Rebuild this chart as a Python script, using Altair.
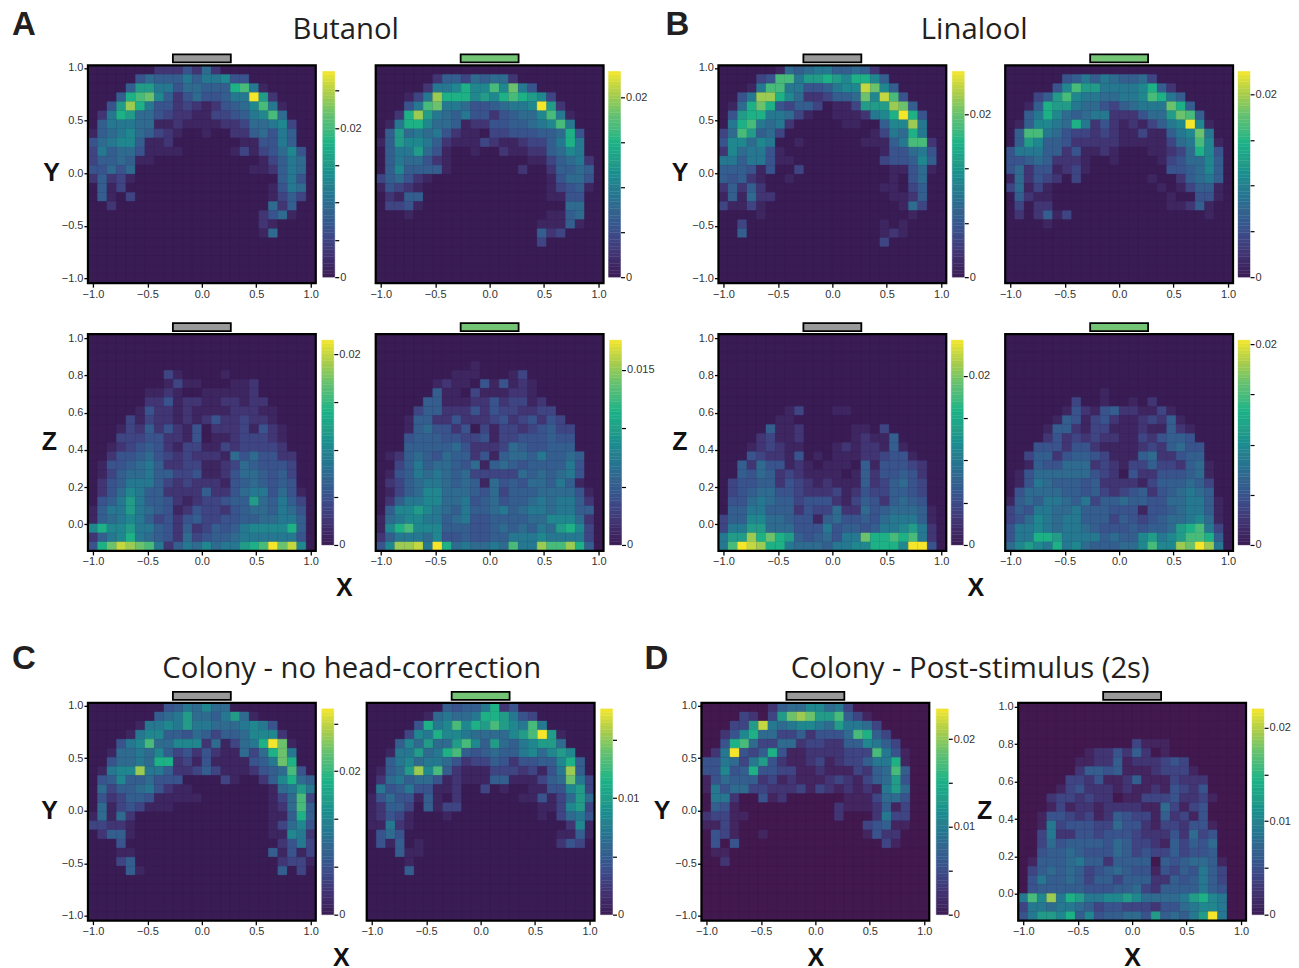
import altair as alt
import pandas as pd

# Each row, top to bottom, is "first_column:levels"; levels 0-f are shades (see LEVELS)
A1_XY = ["7:2224262","5:465557577844","4:59977466555ab71","3:5abc8524644577f92","2:49da744232124568b71",
 "1:27a966432211334578b6","1:577766112111122366783","0:1567865321 12:1 15:2256475","0:467885112 16:114475",
 "0:3756641111 15:13134684","0:3556511 18:13576","0:44646 17:112576","0:25231 20:574","1:513 19:1476",
 "1:51 4:3 19:1353","2:2 19:625","18:2461","18:21","18:16"]
A2_XY = ["","6:255365662","5:2778a88b8c74","3:137daaa898aba983","3:47bc7764456778f92","2:2ad9765744245668b71",
 "1:17aa86651224455678b7","1:5967674211033444556a4","0:15988752111321123357a7","1:5779641 10:1 13:211225687",
 "1:5766421 16:11 18:35672","1:5855551 15:2 18:25565","0:356421 18:14664","0:14321 18:13451","1:2155 18:1144",
 "1:3341 20:66","3:1 18:1156","17:11151","17:523","17:3"]
A3_XZ = ["","","","","8:31 14:1","8:1311 15:112","6:1121 12:111112","6:2241221122122","5:142212111122211",
 "4:3132212124223221","3:132524214022231421","3:333442214011233321","2:1234542133113233332","2:24456432322216464422",
 "1:144567522331123654443","1:135667553341124665453","1:245777532322214565454","1:2468755222252246774641",
 "1:4579755421233455965753","0:15779765412433245665764","0:15678753424533445566775","0:8a8897754252354578888a5",
 "0:2578a765426345567777774","0:4acedcb7257686779abfce8"]
A4_XZ = ["","","","10:1","8:111 14:13","6:12110414121","6:51103111221","5:5511122423312","4:355222424332233",
 "3:15522422234234243","3:156442403133234533","3:455544334133444544","3:555556422236544555","1:125654655241566575565",
 "2:35756654615654555574","1:145767656333336565674","1:235677656516454665751","1:1356886665463555666641",
 "1:2577886674564556767752","1:5889876575567567767755","0:16788775674455556688862","0:18ab8885554456565769a83",
 "0:25777684454455777877773","0:48dde7fa676676b77dbbda5"]
B1_XY = ["6:16567755652","4:34bb799a98aa85","3:17bb77445788ec85","2:47dda86223556c8eb4","1:16aca435530113999dc5",
 "1:49aa77631 12:111278afa4","1:7ab7672 13:11 17:588d7","0:36b9563 16:1376a7","0:488687 8:1 15:11157bb2",
 "0:2867741 17:144674","0:77577411 17:344585","0:555414 8:3 18:11461","0:54521 7:1 18:1 20:46",
 "0:25252 17:11 20:35","0:151622 18:1125","0:31131 19:163","4:1 20:1","2:3 17:1 19:1","2:5 17:121","17:3"]
B2_XY = ["","6:4575765563","5:48b9977778a52","3:359b87766778ba75","2:15a997664356777ca5","2:57a8656772224669cb5",
 "1:158876a72421213578f81","1:5bb7643323211311578c7","1:5985542222211111367b81","0:477755241121 15:11236a84",
 "0:445652221 11:1 16:1346685","0:462441231 17:445685","0:162432 7:3 15:1 18:25675","0:36131 16:1 18:13551",
 "1:5211 17:1 20:441","1:3 3:22 17:11251","1:2 3:2513 21:1","4:1"]
B3_XZ = ["","","","","","","","","7:13 12:11","6:11","5:5112 14:11 17:3","4:23112 14:12 16:115",
 "3:12321 8:1 12:12122151","3:432214 10:1 12:111223441","2:52644121011105144432","2:54652321111015244542",
 "1:344552432121115235643","1:345664432223124335543","1:446765534442135425654","1:5577555243362264566651",
 "0:35588665441564454677751","0:37799666444745545778972","0:799daca95456477caabab72","0:7bfedaa766657788aaa8ff4"]
B4_XZ = ["","","","","","","10:1","7:3 10:1 13:1 15:2","6:142145221131","5:15413421123251","4:1552133111211521",
 "4:2423232211324554","3:444244211112325644","2:3552455431115622455","2:15446662321335332561",
 "1:146666664320422444561","1:147655545222213555653","1:466665545323452456765","0:15657765735565544667751",
 "0:35477667555444144567751","0:34687677555354345667861","0:4778767765444545569ab73","0:477aa97777565589789bba5",
 "0:68987a786555668b88dcfd7"]
C1_XY = ["8:4576866","7:56796657961","5:177879776667874","4:17885546535568882","3:478b66888261367afc1",
 "2:16676853424211636ac7","2:46676aa23141111457ca","1:1788d775223531112456b4","1:458556444 14:31 18:258a65",
 "1:635567421 10:1 19:16797","1:42355411111 19:136b3","1:61343111 19:126b5","0:16162 19:115a5","0:33221 19:13684",
 "1:2551 19:11872","3:4 20:2473","3:11 19:51413","3:35 20:2331","4:51 20:5 22:3"]
C2_XY = ["8:54557a24","6:167667aa9743","5:4a78b8a9b987b7","4:387a887666689bf91","3:5869669b8596578996",
 "2:177967ab545655786898","2:5786776423354244558a5","1:1569d8b5211133323147d5","1:26756641211155111356c73",
 "1:745744112 12:3 14:1 17:1144893","0:1464415102 16:11413696","0:12553 6:5133 18:113893","0:12431 8:1 18:1 20:3674",
 "0:11721 21:281","1:464 20:1151","1:415 5:1 20:243","3:511","4:1","4:5"]
D1_XY = ["7:256688673","4:32 7:39cdc99b531","3:339e767887697763","2:248a6633524446ba53","2:4ab6336623322558753",
 "1:27f435a4112222333b741","0:44763794211231233577a1","0:44845a44331121113256b5","0:1465552312111232135694",
 "0:1746633222313212121796","1:772 6:412 15:1113664","1:541 14:21112513","0:23311 14:2 18:2733","0:1131 17:34511",
 "1:431 6:1 17:1422","1:4 3:4 19:31","1:11","2:2"]
D2_XZ = ["","","","","12:3111","7:122425201","6:112251222343","6:2554511123331","5:332411251113222","4:1342221211214324",
 "3:233232201133342231","3:13122122221163134","2:144323125433152314","2:1734443364421332441","2:3722443444322242634",
 "2:3645555465332153546","2:4556544465343353445","1:155567552555505456651","1:356565345654414354753",
 "1:475565355355522545753","1:455555444556325555754","0:7b8d7a9778898666679a87","0:3776776534433324467887",
 "0:47998a58455664956579f7"]

LEVELS = [0, .05, .12, .18, .24, .29, .35, .41, .47, .55, .65, .73, .8, .87, .93, 1]
MAX = {"A1":.0276,"A2":.0229,"A3":.0215,"A4":.01755,"B1":.0253,"B2":.0225,"B3":.0242,"B4":.02043,
       "C1":.0287,"C2":.01767,"D1":.02344,"D2":.022}
T5 = [0,.005,.01,.015,.02]
TICKS = {"A1":T5+[.025],"A2":T5,"A3":T5,"A4":T5[:4],"B1":[0,.00667,.01333,.02],"B2":T5,"B3":T5,"B4":T5,
         "C1":[0,.00667,.01333,.02,.02667],"C2":T5[:4],"D1":T5,"D2":T5}
LABELS = {"A1":[0,.02],"A2":[0,.02],"A3":[0,.02],"A4":[0,.015],"B1":[0,.02],"B2":[0,.02],"B3":[0,.02],"B4":[0,.02],
          "C1":[0,.02],"C2":[0,.01],"D1":[0,.01,.02],"D2":[0,.01,.02]}
XTICKS = [-1,-.5,0,.5,1]
YTICKS = [-1,-.5,0,.5,1]
ZTICKS = [0,.2,.4,.6,.8,1]
STOPS = ["#3a1c54","#413372","#3c4f8b","#33668e","#27808e","#249c88","#20b585","#5fbf74","#a9cc4c","#f5e62c"]
GRAY, GREEN = "#999999", "#74c476"
XDOM = [-1.046, 1.046]
YDOM = [-1.045, 1.025]
ZDOM = [-.143, 1.0215]
LABELFONT = "Liberation Sans"
BOLD = "Liberation Sans"
SANS = "Open Sans"
DARK = "#231f20"
DBG = "#42194f"
PW = 228
BARW = 12


def cells(rows, vmax, ydom):
    grid = [[0] * 24 for _ in range(24)]
    for r, row in enumerate(rows):
        for seg in row.split():
            start, levels = seg.split(":")
            for k, ch in enumerate(levels):
                grid[r][int(start) + k] = int(ch, 16)
    dx = (XDOM[1] - XDOM[0]) / 24
    dy = (ydom[1] - ydom[0]) / 24
    out = []
    for r in range(24):
        for c in range(24):
            out.append({"x0": XDOM[0] + c * dx, "x1": XDOM[0] + (c + 1) * dx,
                        "y0": ydom[1] - (r + 1) * dy, "y1": ydom[1] - r * dy,
                        "v": LEVELS[grid[r][c]] * vmax})
    return pd.DataFrame(out)


def panel(key, rows, ydom, h, ind, advance, bargap, yticks=None, ytitle=None, xtitle=None, texts=(), bg=None):
    """advance: distance in px from this panel's left edge to the next panel's left edge."""
    vmax = MAX[key]
    stops = ([bg] + STOPS[1:]) if bg else STOPS
    cs = alt.Scale(domain=[0, vmax], range=stops)
    xs = alt.Scale(domain=XDOM, nice=False, zero=False, range=[0, PW])
    ys = alt.Scale(domain=ydom, nice=False, zero=False)
    ax = dict(labelFont=LABELFONT, labelFontSize=11, labelColor="#333333", tickColor="black", tickWidth=1.3,
              tickSize=4, domain=False, grid=False, labelPadding=1, format=".1f", labelFlush=False)
    tf = dict(titleFont=BOLD, titleFontWeight="bold", titleFontSize=25, titleColor="#111111", titleAngle=0,
              titleAlign="center", titleBaseline="middle")
    xax = dict(ax, values=XTICKS, title=None)
    if xtitle:
        xax.update(tf, title="X", titleX=xtitle[0], titleY=xtitle[1])
    if yticks:
        yax = dict(ax, values=yticks, title=None)
        if ytitle:
            yax.update(tf, title=ytitle[0], titleX=ytitle[1], titleY=ytitle[2])
        ye = alt.Y("y0:Q", scale=ys, axis=alt.Axis(**yax))
    else:
        ye = alt.Y("y0:Q", scale=ys, axis=None)
    back = alt.Chart(pd.DataFrame({"a": [0]})).mark_rect(fill=stops[0], strokeWidth=0).encode(
        x=alt.value(0), x2=alt.value(PW), y=alt.value(0), y2=alt.value(h))
    heat = alt.Chart(cells(rows, vmax, ydom)).mark_rect(strokeWidth=0.3).encode(
        x=alt.X("x0:Q", scale=xs, axis=alt.Axis(**xax)), x2="x1:Q", y=ye, y2="y1:Q",
        color=alt.Color("v:Q", scale=cs, legend=None),
        stroke=alt.Stroke("v:Q", scale=cs, legend=None))
    frame = alt.Chart(pd.DataFrame({"a": [0]})).mark_rect(filled=False, stroke="black", strokeWidth=2.2).encode(
        x=alt.value(0), x2=alt.value(PW), y=alt.value(0), y2=alt.value(h))
    tag = alt.Chart(pd.DataFrame({"a": [-.266], "b": [.266]})).mark_rect(
        fill=ind, stroke="black", strokeWidth=1.8).encode(
        x=alt.X("a:Q", scale=xs, axis=alt.Axis(**xax)), x2="b:Q", y=alt.value(-11), y2=alt.value(-3))

    # colour bar, in the same view, with its own y scale and a right-hand axis
    pad = 6 * vmax / (h - 12)
    n = 60
    bdf = pd.DataFrame({"lo": [vmax * i / n for i in range(n)], "hi": [vmax * (i + 1) / n for i in range(n)],
                        "m": [vmax * (i + .5) / n for i in range(n)]})
    expr = ""
    for v in LABELS[key]:
        s = "0" if v == 0 else str(v)
        expr += f"abs(datum.value-{v})<1e-6?'{s}':"
    expr += "''"
    bx = PW + bargap
    baxis = alt.Axis(orient="right", values=TICKS[key], labelExpr=expr, title=None, domain=False, grid=False,
                     tickColor="black", tickSize=4, tickWidth=1.2, labelFont=LABELFONT, labelFontSize=11,
                     labelColor="#333333", labelPadding=1, offset=bx + BARW - advance)
    bs = alt.Scale(domain=[0, vmax], range=STOPS)
    cbar = alt.Chart(bdf).mark_rect(strokeWidth=0.4).encode(
        x=alt.value(bx), x2=alt.value(bx + BARW),
        y=alt.Y("lo:Q", scale=alt.Scale(domain=[-pad, vmax + pad], nice=False, zero=False), axis=baxis),
        y2="hi:Q",
        color=alt.Color("m:Q", scale=bs, legend=None),
        stroke=alt.Stroke("m:Q", scale=bs, legend=None))

    layers = [back, heat, frame, tag, cbar]
    for t, px, py, size, font, weight, col in texts:
        layers.append(alt.Chart(pd.DataFrame({"t": [t]})).mark_text(
            font=font, fontSize=size, fontWeight=weight, color=col, align="center", baseline="middle").encode(
            text="t:N", x=alt.value(px), y=alt.value(py)))
    return alt.layer(*layers).resolve_scale(y="independent", color="independent", stroke="independent").resolve_axis(
        y="independent").properties(width=advance, height=h, view=alt.ViewBackground(stroke=None))


def big(t, x, y):
    return (t, x, y, 33, BOLD, "bold", DARK)


def head(t, x, y):
    return (t, x, y, 29.3, SANS, "normal", DARK)


a1 = panel("A1", A1_XY, YDOM, 218, GRAY, 288, 7, YTICKS, ("Y", -37, 107), texts=[big("A", -64, -40), head("Butanol", 258, -35)])
a2 = panel("A2", A2_XY, YDOM, 218, GREEN, 343, 5)
b1 = panel("B1", B1_XY, YDOM, 218, GRAY, 287, 6, YTICKS, ("Y", -39, 107), texts=[big("B", -41, -40), head("Linalool", 256, -35)])
b2 = panel("B2", B2_XY, YDOM, 218, GREEN, 245, 5)
a3 = panel("A3", A3_XZ, ZDOM, 217, GRAY, 288, 6, ZTICKS, ("Z", -39, 107), xtitle=(256, 37))
a4 = panel("A4", A4_XZ, ZDOM, 217, GREEN, 343, 6)
b3 = panel("B3", B3_XZ, ZDOM, 217, GRAY, 287, 5, ZTICKS, ("Z", -39, 107), xtitle=(257, 37))
b4 = panel("B4", B4_XZ, ZDOM, 217, GREEN, 245, 5)
c1 = panel("C1", C1_XY, YDOM, 218, GRAY, 279, 6, YTICKS, ("Y", -39, 108), xtitle=(253, 37),
           texts=[big("C", -64, -44), head("Colony - no head-correction", 264, -34)])
c2 = panel("C2", C2_XY, YDOM, 218, GREEN, 335, 6)
d1 = panel("D1", D1_XY, YDOM, 218, GRAY, 317, 7, YTICKS, ("Y", -40, 108), xtitle=(114, 37),
           texts=[big("D", -45, -44), head("Colony - Post-stimulus (2s)", 269, -34)], bg=DBG)
d2 = panel("D2", D2_XZ, ZDOM, 218, GRAY, 245, 6, ZTICKS, ("Z", -34, 108), xtitle=(114, 37), bg=DBG)

row1 = alt.hconcat(a1, a2, b1, b2, spacing=0, bounds="flush")
row2 = alt.hconcat(a3, a4, b3, b4, spacing=0, bounds="flush")
row3 = alt.hconcat(c1, c2, d1, d2, spacing=0, bounds="flush")

chart = alt.vconcat(alt.vconcat(row1, row2, spacing=23), row3, spacing=42).properties(
    padding={"left": 4, "top": 1, "right": 0, "bottom": 0},
    background="white")
chart.save("out.html", embed_options={"renderer": "svg", "actions": False})
